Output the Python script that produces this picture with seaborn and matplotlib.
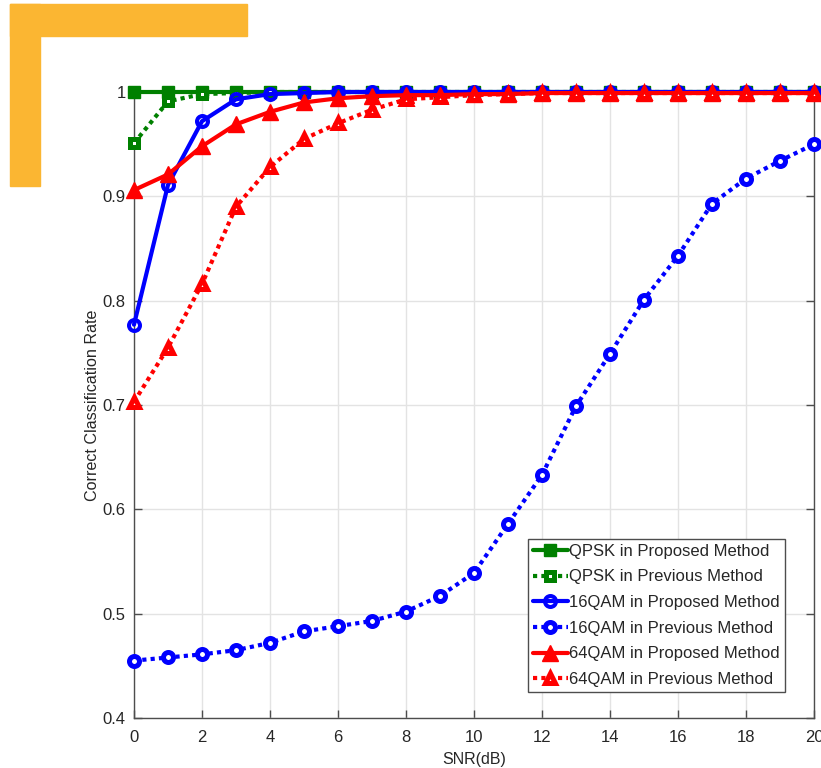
import matplotlib
matplotlib.use("Agg")
import matplotlib.pyplot as plt
from matplotlib.patches import Rectangle
from matplotlib.ticker import FixedLocator, FixedFormatter
import seaborn as sns

# SNR axis (dB)
snr = [0, 1, 2, 3, 4, 5, 6, 7, 8, 9, 10, 11, 12, 13, 14, 15, 16, 17, 18, 19, 20]

# Correct classification rate for each modulation / method
qpsk_proposed = [1.0, 1.0, 1.0, 1.0, 1.0, 1.0, 1.0, 1.0, 1.0, 1.0, 1.0,
                 1.0, 1.0, 1.0, 1.0, 1.0, 1.0, 1.0, 1.0, 1.0, 1.0]
qpsk_previous = [0.951, 0.991, 0.998, 0.999, 1.0, 1.0, 1.0, 1.0, 1.0, 1.0, 1.0,
                 1.0, 1.0, 1.0, 1.0, 1.0, 1.0, 1.0, 1.0, 1.0, 1.0]
qam16_proposed = [0.777, 0.911, 0.972, 0.993, 0.998, 0.999, 1.0, 1.0, 1.0, 1.0, 1.0,
                  1.0, 1.0, 1.0, 1.0, 1.0, 1.0, 1.0, 1.0, 1.0, 1.0]
qam16_previous = [0.455, 0.458, 0.461, 0.465, 0.472, 0.483, 0.488, 0.493, 0.502, 0.517, 0.539,
                  0.586, 0.633, 0.699, 0.749, 0.801, 0.843, 0.893, 0.917, 0.934, 0.950]
qam64_proposed = [0.906, 0.921, 0.948, 0.969, 0.981, 0.990, 0.994, 0.996, 0.997, 0.997, 0.998,
                  0.998, 0.999, 0.999, 0.999, 0.999, 0.999, 0.999, 0.999, 0.999, 0.999]
qam64_previous = [0.703, 0.755, 0.816, 0.890, 0.928, 0.955, 0.970, 0.983, 0.993, 0.995, 0.997,
                  0.998, 0.999, 0.999, 0.999, 0.999, 0.999, 0.999, 0.999, 0.999, 0.999]

labels = ["QPSK in Proposed Method", "QPSK in Previous Method",
          "16QAM in Proposed Method", "16QAM in Previous Method",
          "64QAM in Proposed Method", "64QAM in Previous Method"]

x_ticks = [0, 2, 4, 6, 8, 10, 12, 14, 16, 18, 20]
y_ticks = [0.4, 0.5, 0.6, 0.7, 0.8, 0.9, 1.0]
y_tick_labels = ["0.4", "0.5", "0.6", "0.7", "0.8", "0.9", "1"]

sns.set_theme(style="whitegrid")
plt.rcParams["font.family"] = ["Liberation Sans", "DejaVu Sans"]

GREEN = "#008000"
BLUE = "#0000ff"
RED = "#ff0000"
TEXT = "#262626"
DOT = (0, (1.0, 1.0))

fig = plt.figure(figsize=(8.21, 7.68), dpi=100)
fig.patch.set_facecolor("white")

# Orange corner bracket
orange = "#fbb632"
fig.patches.append(Rectangle((10 / 821, 1 - 36 / 768), 237 / 821, 32 / 768,
                             transform=fig.transFigure, color=orange, zorder=0))
fig.patches.append(Rectangle((10 / 821, 1 - 186 / 768), 30 / 821, 182 / 768,
                             transform=fig.transFigure, color=orange, zorder=0))

ax = fig.add_axes([134 / 821, 50 / 768, 680 / 821, 626 / 768])

series = [
    (qpsk_proposed, GREEN, "-", dict(marker="s", markersize=8.5, markerfacecolor=GREEN,
                                      markeredgewidth=1.0)),
    (qpsk_previous, GREEN, DOT, dict(marker="s", markersize=5.8, markerfacecolor="white",
                                      markeredgewidth=3.6)),
    (qam16_proposed, BLUE, "-", dict(marker="o", markersize=7.9, markerfacecolor="none",
                                      markeredgewidth=2.9)),
    (qam16_previous, BLUE, DOT, dict(marker="o", markersize=7.2, markerfacecolor="white",
                                      markeredgewidth=3.6)),
    (qam64_proposed, RED, "-", dict(marker="^", markersize=11.5, markerfacecolor=RED,
                                     markeredgewidth=1.0)),
    (qam64_previous, RED, DOT, dict(marker="^", markersize=7.8, markerfacecolor="white",
                                     markeredgewidth=3.6)),
]

for (vals, color, ls, mk), label in zip(series, labels):
    sns.lineplot(x=snr, y=vals, ax=ax, color=color, linestyle=ls, linewidth=3.0,
                 markeredgecolor=color, label=label, clip_on=False, zorder=3, **mk)

ax.set_xlim(0, 20)
ax.set_ylim(0.4, 1.0)
ax.xaxis.set_major_locator(FixedLocator(x_ticks))
ax.yaxis.set_major_locator(FixedLocator(y_ticks))
ax.yaxis.set_major_formatter(FixedFormatter(y_tick_labels))

ax.grid(True, color="#e3e3e3", linewidth=1.0)
for side in ["left", "bottom", "right", "top"]:
    ax.spines[side].set_visible(True)
    ax.spines[side].set_color("#4d4d4d")
    ax.spines[side].set_linewidth(1.0)

ax.tick_params(axis="both", direction="in", length=6, width=1.0, color="#4d4d4d",
               labelsize=12, labelcolor=TEXT, right=True, left=True, bottom=True)
ax.tick_params(axis="x", pad=9)
ax.tick_params(axis="y", pad=6)

ax.set_xlabel("SNR(dB)", fontsize=11.5, color=TEXT, labelpad=5)
ax.set_ylabel("Correct Classification Rate", fontsize=11.6, color=TEXT, labelpad=2)

leg = ax.legend(loc="lower left", bbox_to_anchor=(0.579, 0.0415), fontsize=12,
                frameon=True, fancybox=False, framealpha=1.0, edgecolor="#4d4d4d",
                handlelength=2.1, handletextpad=0.1, labelspacing=0.64,
                borderpad=0.3, borderaxespad=0.0)
leg.get_frame().set_linewidth(1.0)
for t in leg.get_texts():
    t.set_color(TEXT)

fig.savefig("out.png", dpi=100, facecolor="white")
